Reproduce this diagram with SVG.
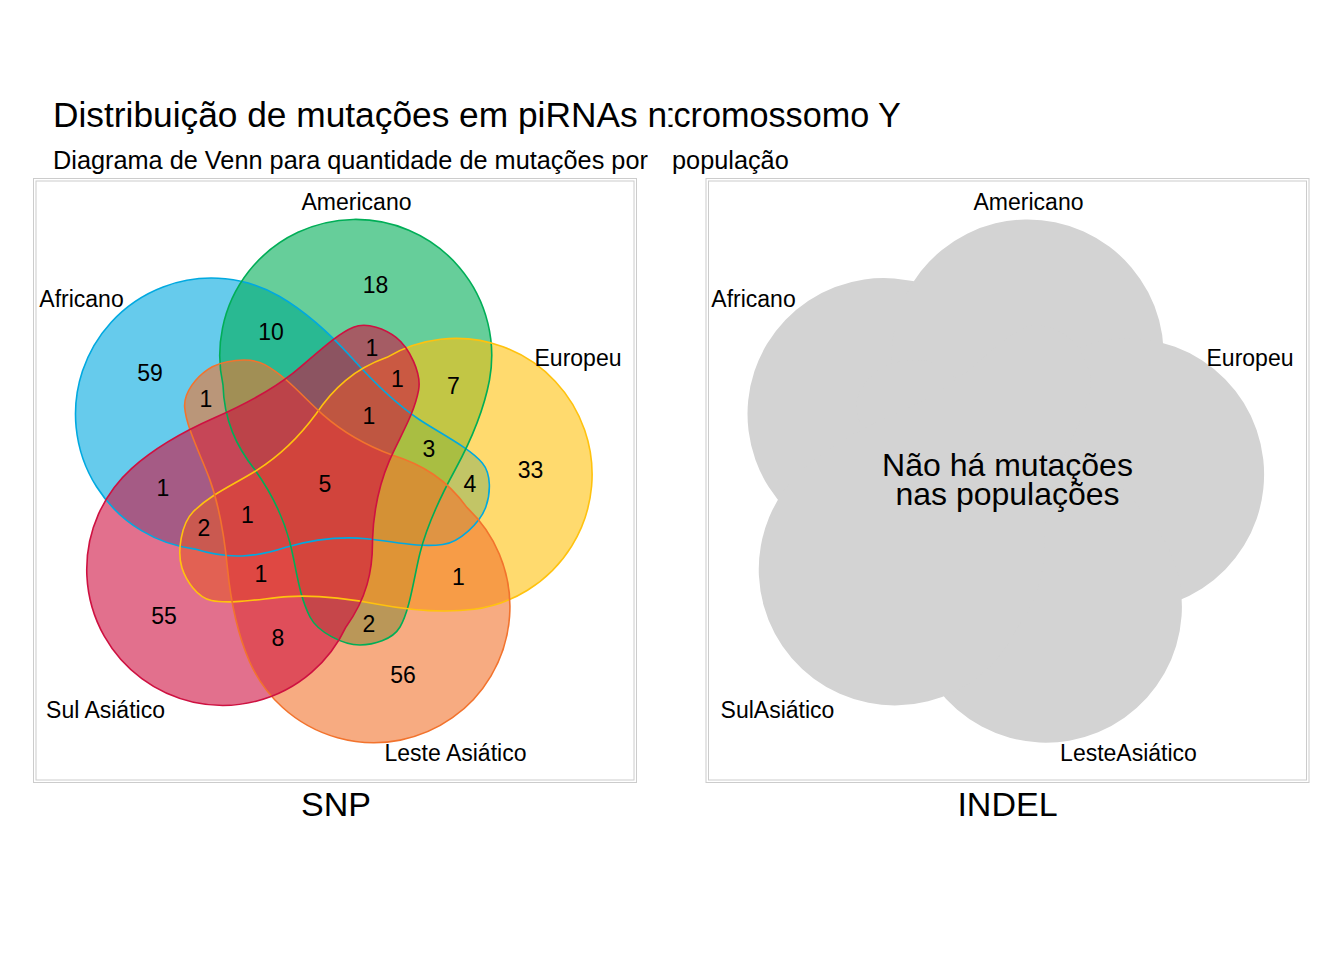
<svg xmlns="http://www.w3.org/2000/svg" xmlns:xlink="http://www.w3.org/1999/xlink" width="1344" height="960" viewBox="0 0 1344 960">
<style>
text{font-family:"Liberation Sans",Arial,Helvetica,sans-serif;fill:#000}
.lab{font-size:23px;text-anchor:middle}
.num{font-size:23px;text-anchor:middle}
.frame{fill:none;stroke:#CCCCCC;stroke-width:1}
.f{fill-opacity:0.6;stroke:none}
.o{fill:none;stroke-width:1.6}
.grey{fill:#D3D3D3;stroke:none}
</style>
<defs>
<path id="s" d="M 223,385 A 136 136 0 1 1 489.5,380 C 484,409 469.4,443.6 455,470 C 440.6,496.4 427.4,523.9 420,553 C 414,577 410,610 400,627 C 392.4,639.9 373,645 360,645 C 343,645 317.7,632 310,617 C 298.3,593.9 296.5,568.2 290,543 C 283.25,516.8 270.7,491.9 255,470 C 236,446 224,420 223,385 Z"/>
<clipPath id="sliver"><rect x="668.5" y="95" width="4" height="40"/></clipPath>
</defs>
<rect width="1344" height="960" fill="#FFFFFF"/>
<g id="title">
<text x="53" y="127" font-size="35.3">Distribuição de mutações em piRNAs n</text>
<text x="660.5" y="127" font-size="35.3" clip-path="url(#sliver)">o</text>
<text x="673.5" y="127" font-size="34.2">cromossomo Y</text>
<text x="53" y="169" font-size="25.3">Diagrama de Venn para quantidade de mutações por</text>
<text x="672" y="169" font-size="25.3">população</text>
</g>
<g id="panel-snp">
<rect class="frame" x="33.5" y="178.5" width="603" height="604"/>
<rect class="frame" x="36" y="181" width="598" height="599"/>
<g id="fills">
<use xlink:href="#s" href="#s" class="f" fill="#00A9E0" transform="rotate(1.5 211 414) rotate(288 324 484)"/>
<use xlink:href="#s" href="#s" class="f" fill="#00AE57"/>
<use xlink:href="#s" href="#s" class="f" fill="#FFC20E" transform="rotate(72 324 484)"/>
<use xlink:href="#s" href="#s" class="f" fill="#F2732D" transform="rotate(1.8 374 607) rotate(144 324 484)"/>
<use xlink:href="#s" href="#s" class="f" fill="#CE1141" transform="rotate(1.6 222 570) rotate(216 324 484)"/>
</g>
<g id="outlines">
<use xlink:href="#s" href="#s" class="o" stroke="#00A9E0" transform="rotate(1.5 211 414) rotate(288 324 484)"/>
<use xlink:href="#s" href="#s" class="o" stroke="#00AE57"/>
<use xlink:href="#s" href="#s" class="o" stroke="#FFC20E" transform="rotate(72 324 484)"/>
<use xlink:href="#s" href="#s" class="o" stroke="#F2732D" transform="rotate(1.8 374 607) rotate(144 324 484)"/>
<use xlink:href="#s" href="#s" class="o" stroke="#CE1141" transform="rotate(1.6 222 570) rotate(216 324 484)"/>
</g>
<g id="snp-labels">
<text class="lab" x="356.5" y="210">Americano</text>
<text class="lab" x="81.5" y="307">Africano</text>
<text class="lab" x="578" y="366">Europeu</text>
<text class="lab" x="105.5" y="718">Sul Asiático</text>
<text class="lab" x="455.5" y="761">Leste Asiático</text>
</g>
<g id="snp-counts">
<text class="num" x="375.5" y="293">18</text>
<text class="num" x="271" y="340">10</text>
<text class="num" x="150" y="381">59</text>
<text class="num" x="206" y="407">1</text>
<text class="num" x="372" y="356">1</text>
<text class="num" x="397.5" y="387">1</text>
<text class="num" x="453.5" y="394">7</text>
<text class="num" x="369" y="424">1</text>
<text class="num" x="429" y="457">3</text>
<text class="num" x="530.5" y="478">33</text>
<text class="num" x="470" y="492">4</text>
<text class="num" x="325" y="492">5</text>
<text class="num" x="163" y="496">1</text>
<text class="num" x="247.5" y="523">1</text>
<text class="num" x="204" y="536">2</text>
<text class="num" x="261" y="582">1</text>
<text class="num" x="458.5" y="585">1</text>
<text class="num" x="164" y="624">55</text>
<text class="num" x="369" y="632">2</text>
<text class="num" x="278" y="646">8</text>
<text class="num" x="403" y="683">56</text>
</g>
<text x="336" y="816" font-size="34" text-anchor="middle">SNP</text>
</g>
<g id="panel-indel">
<rect class="frame" x="706" y="178.5" width="603" height="604"/>
<rect class="frame" x="708.5" y="181" width="598" height="599"/>
<g id="union" transform="translate(672 0)">
<use xlink:href="#s" href="#s" class="grey" transform="rotate(1.5 211 414) rotate(288 324 484)"/>
<use xlink:href="#s" href="#s" class="grey"/>
<use xlink:href="#s" href="#s" class="grey" transform="rotate(72 324 484)"/>
<use xlink:href="#s" href="#s" class="grey" transform="rotate(1.8 374 607) rotate(144 324 484)"/>
<use xlink:href="#s" href="#s" class="grey" transform="rotate(1.6 222 570) rotate(216 324 484)"/>
</g>
<g id="indel-labels">
<text class="lab" x="1028.5" y="210">Americano</text>
<text class="lab" x="753.5" y="307">Africano</text>
<text class="lab" x="1250" y="366">Europeu</text>
<text class="lab" x="777.5" y="718">SulAsiático</text>
<text class="lab" x="1128.5" y="761">LesteAsiático</text>
</g>
<text x="1007.5" y="476" font-size="32" text-anchor="middle">Não há mutações</text>
<text x="1007.5" y="505" font-size="32" text-anchor="middle">nas populações</text>
<text x="1007.5" y="816" font-size="34" text-anchor="middle">INDEL</text>
</g>
</svg>
